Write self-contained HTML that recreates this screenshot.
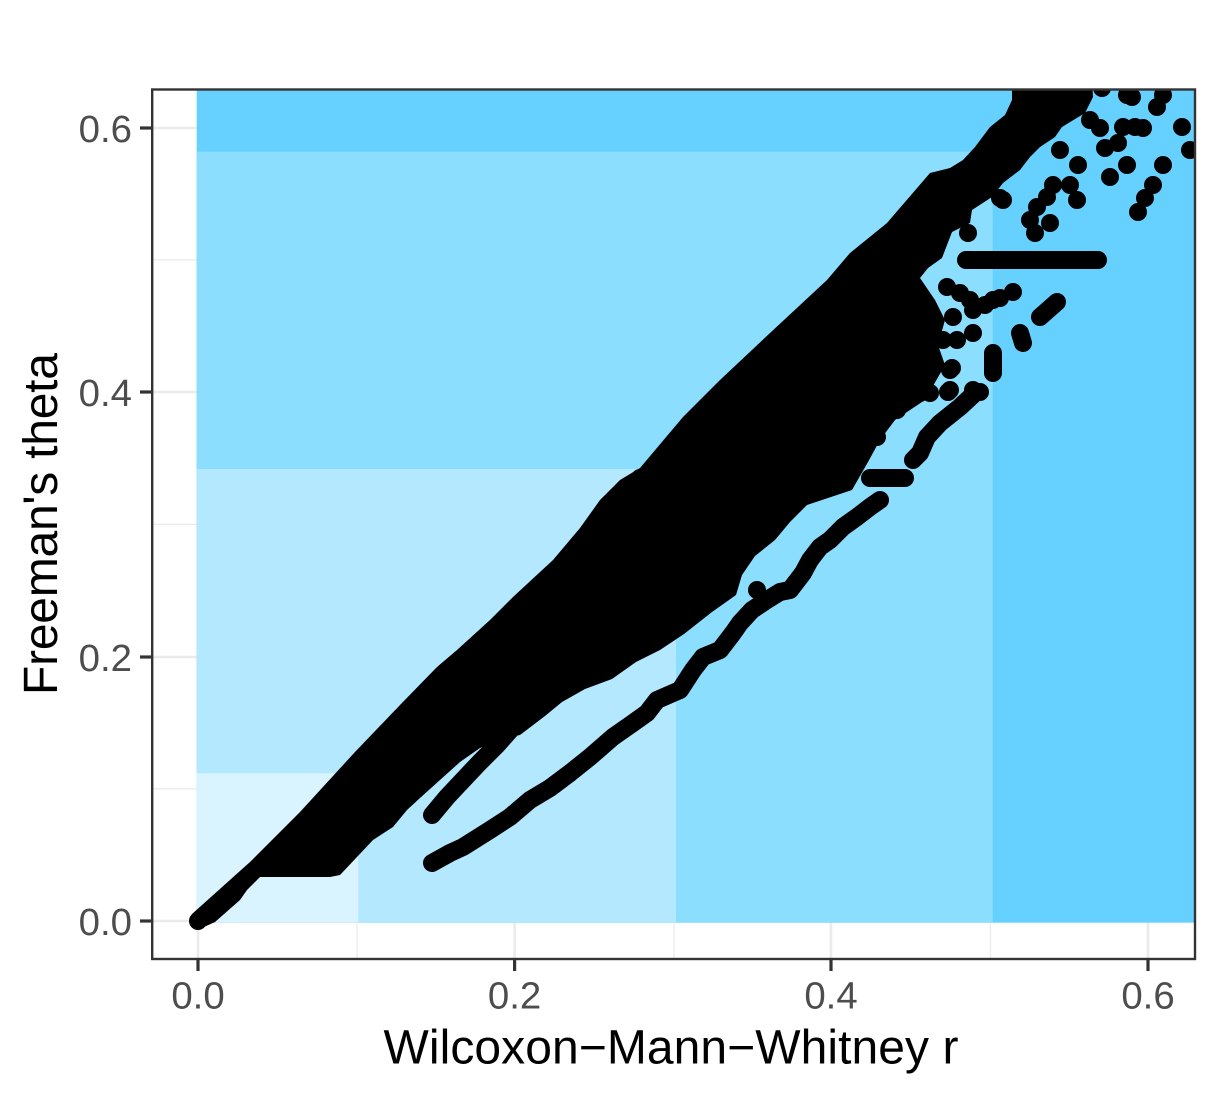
<!DOCTYPE html>
<html>
<head>
<meta charset="utf-8">
<style>
html,body{margin:0;padding:0;background:#fff;}
svg{display:block;}
text{font-family:"Liberation Sans",Arial,sans-serif;}
</style>
</head>
<body>
<svg width="1217" height="1096" viewBox="0 0 1217 1096" xmlns="http://www.w3.org/2000/svg">
<rect x="0" y="0" width="1217" height="1096" fill="#ffffff"/>
<defs>
<clipPath id="pc"><rect x="152.2" y="89.5" width="1042.8" height="869.5"/></clipPath>
</defs>

<!-- gridlines -->
<g stroke="#EBEBEB" fill="none">
  <g stroke-width="1.3">
    <line x1="152" y1="788.8" x2="1195" y2="788.8"/>
    <line x1="152" y1="524.3" x2="1195" y2="524.3"/>
    <line x1="152" y1="259.8" x2="1195" y2="259.8"/>
    <line x1="357" y1="89" x2="357" y2="959"/>
    <line x1="674" y1="89" x2="674" y2="959"/>
    <line x1="990.5" y1="89" x2="990.5" y2="959"/>
  </g>
  <g stroke-width="2.6">
    <line x1="152" y1="921" x2="1195" y2="921"/>
    <line x1="152" y1="657" x2="1195" y2="657"/>
    <line x1="152" y1="392" x2="1195" y2="392"/>
    <line x1="152" y1="128" x2="1195" y2="128"/>
    <line x1="198" y1="89" x2="198" y2="959"/>
    <line x1="514.6" y1="89" x2="514.6" y2="959"/>
    <line x1="831" y1="89" x2="831" y2="959"/>
    <line x1="1148" y1="89" x2="1148" y2="959"/>
  </g>
</g>

<g clip-path="url(#pc)">
  <!-- background zones -->
  <rect x="196.7" y="80" width="1010" height="842.7" fill="#66D1FF"/>
  <rect x="196.7" y="151.7" width="796" height="771" fill="#8CDEFF"/>
  <rect x="196.7" y="469" width="479.3" height="453.7" fill="#B3E8FF"/>
  <rect x="196.7" y="773.3" width="161.6" height="149.4" fill="#D9F3FF"/>

  <!-- points -->
  <g fill="#000000">
    <polygon points="192,914 250,862 300,812 355,752 400,705 437,667 457,650 490,620 513,597 553,560 580,528 600,500 620,480 640,468 683,417 720,380 770,333 827,280 850,253 887,223 930,173 950,168 963,160 975,147 990,127 1005,115 1012,100 1012,80 1092,80 1093,97 1085,113 1062,127 1055,137 1040,147 1030,157 1020,170 1003,183 992,197 972,210 970,223 952,232 942,258 928,268 920,278 935,300 945,320 938,345 945,365 925,400 895,420 880,440 868,462 852,490 807,505 790,522 775,540 755,556 742,575 736,595 712,612 684,634 660,650 636,662 612,679 585,689 562,702 545,716 520,735 505,738 480,748 460,762 440,780 420,798 407,810 393,827 373,840 340,875 330,877 260,877 247,890 240,900 215,922 204,927"/>
    <circle cx="198" cy="921" r="9"/>
  </g>
  <g stroke="#000000" stroke-width="18" stroke-linecap="round" stroke-linejoin="round" fill="none">
    <polyline points="432,815 447,797 463,780 480,762 497,745 513,727"/>
    <polyline points="432,863 450,853 463,847 490,830 510,817 530,800 550,788 570,773 590,757 613,737 633,723 647,713 657,700 680,690 693,670 703,657 720,650 733,633 740,623 752,610 767,600 780,592 790,590 803,573 810,560 820,547 830,540 843,527 857,517 870,507 880,500"/>
    <polyline points="913,460 920,453 927,437 940,423 960,407 975,393"/>
    <polyline points="993,373 993,353"/>
    <polyline points="1020,333 1023,343"/>
    <polyline points="1040,317 1057,302"/>
    <line x1="640" y1="478" x2="848" y2="478"/>
    <line x1="870" y1="478" x2="905" y2="478"/>
    <line x1="966" y1="260" x2="1098" y2="260"/>
  </g>
  <g fill="#000000">
    <circle cx="1102" cy="88" r="9"/><circle cx="1127" cy="95" r="9"/><circle cx="1132" cy="97" r="9"/>
    <circle cx="1163" cy="95" r="9"/><circle cx="1157" cy="107" r="9"/><circle cx="1090" cy="120" r="9"/>
    <circle cx="1100" cy="128" r="9"/><circle cx="1123" cy="127" r="9"/><circle cx="1135" cy="127" r="9"/>
    <circle cx="1143" cy="128" r="9"/><circle cx="1182" cy="127" r="9"/><circle cx="1190" cy="150" r="9"/>
    <circle cx="1105" cy="148" r="9"/><circle cx="1118" cy="143" r="9"/><circle cx="1060" cy="150" r="9"/>
    <circle cx="1078" cy="165" r="9"/><circle cx="1127" cy="165" r="9"/><circle cx="1163" cy="165" r="9"/>
    <circle cx="1110" cy="177" r="9"/><circle cx="1153" cy="185" r="9"/><circle cx="1145" cy="198" r="9"/>
    <circle cx="1138" cy="212" r="9"/><circle cx="1053" cy="185" r="9"/><circle cx="1047" cy="197" r="9"/>
    <circle cx="1037" cy="207" r="9"/><circle cx="1030" cy="220" r="9"/><circle cx="1035" cy="233" r="9"/>
    <circle cx="1070" cy="185" r="9"/><circle cx="1077" cy="200" r="9"/><circle cx="1050" cy="223" r="9"/>
    <circle cx="1000" cy="198" r="9"/><circle cx="1003" cy="200" r="9"/><circle cx="968" cy="233" r="9"/>

    <circle cx="947" cy="287" r="9"/><circle cx="960" cy="293" r="9"/><circle cx="970" cy="300" r="9"/>
    <circle cx="993" cy="300" r="9"/><circle cx="1013" cy="292" r="9"/><circle cx="953" cy="317" r="9"/>
    <circle cx="973" cy="310" r="9"/><circle cx="930" cy="340" r="9"/><circle cx="943" cy="340" r="9"/>
    <circle cx="957" cy="340" r="9"/><circle cx="973" cy="333" r="9"/><circle cx="907" cy="370" r="9"/>
    <circle cx="897" cy="357" r="9"/><circle cx="920" cy="393" r="9"/><circle cx="948" cy="392" r="9"/>
    <circle cx="980" cy="392" r="9"/><circle cx="952" cy="368" r="9"/><circle cx="893" cy="320" r="9"/>
    <circle cx="913" cy="340" r="9"/><circle cx="873" cy="353" r="9"/><circle cx="893" cy="353" r="9"/>
    <circle cx="920" cy="377" r="9"/><circle cx="930" cy="393" r="9"/><circle cx="950" cy="370" r="9"/>
    <circle cx="950" cy="390" r="9"/><circle cx="973" cy="390" r="9"/><circle cx="993" cy="360" r="9"/>
    <circle cx="900" cy="390" r="9"/><circle cx="897" cy="410" r="9"/><circle cx="873" cy="423" r="9"/>
    <circle cx="877" cy="437" r="9"/><circle cx="853" cy="457" r="9"/><circle cx="843" cy="447" r="9"/>
    <circle cx="812" cy="370" r="9"/><circle cx="840" cy="367" r="9"/>
    <circle cx="757" cy="590" r="9"/><circle cx="985" cy="305" r="9"/><circle cx="1000" cy="298" r="9"/>
  </g>
</g>

<!-- panel border -->
<rect x="152.2" y="89.5" width="1042.8" height="869.5" fill="none" stroke="#333333" stroke-width="2.4"/>

<!-- ticks -->
<g stroke="#333333" stroke-width="3.2">
  <line x1="140" y1="921" x2="152" y2="921"/>
  <line x1="140" y1="657" x2="152" y2="657"/>
  <line x1="140" y1="392" x2="152" y2="392"/>
  <line x1="140" y1="128" x2="152" y2="128"/>
  <line x1="198" y1="959" x2="198" y2="971"/>
  <line x1="514.6" y1="959" x2="514.6" y2="971"/>
  <line x1="831" y1="959" x2="831" y2="971"/>
  <line x1="1148" y1="959" x2="1148" y2="971"/>
</g>

<!-- tick labels -->
<g font-size="38.4" fill="#4D4D4D">
  <text x="132" y="934.8" text-anchor="end">0.0</text>
  <text x="132" y="670.8" text-anchor="end">0.2</text>
  <text x="132" y="405.8" text-anchor="end">0.4</text>
  <text x="132" y="141.8" text-anchor="end">0.6</text>
  <text x="198" y="1008.3" text-anchor="middle">0.0</text>
  <text x="514.6" y="1008.3" text-anchor="middle">0.2</text>
  <text x="831" y="1008.3" text-anchor="middle">0.4</text>
  <text x="1148" y="1008.3" text-anchor="middle">0.6</text>
</g>

<!-- axis titles -->
<text x="671" y="1063.5" font-size="48" fill="#000000" text-anchor="middle" textLength="575" lengthAdjust="spacing">Wilcoxon&#8722;Mann&#8722;Whitney r</text>
<text transform="translate(57,524) rotate(-90)" x="0" y="0" font-size="48" fill="#000000" text-anchor="middle" textLength="342" lengthAdjust="spacing">Freeman's theta</text>
</svg>
</body>
</html>
